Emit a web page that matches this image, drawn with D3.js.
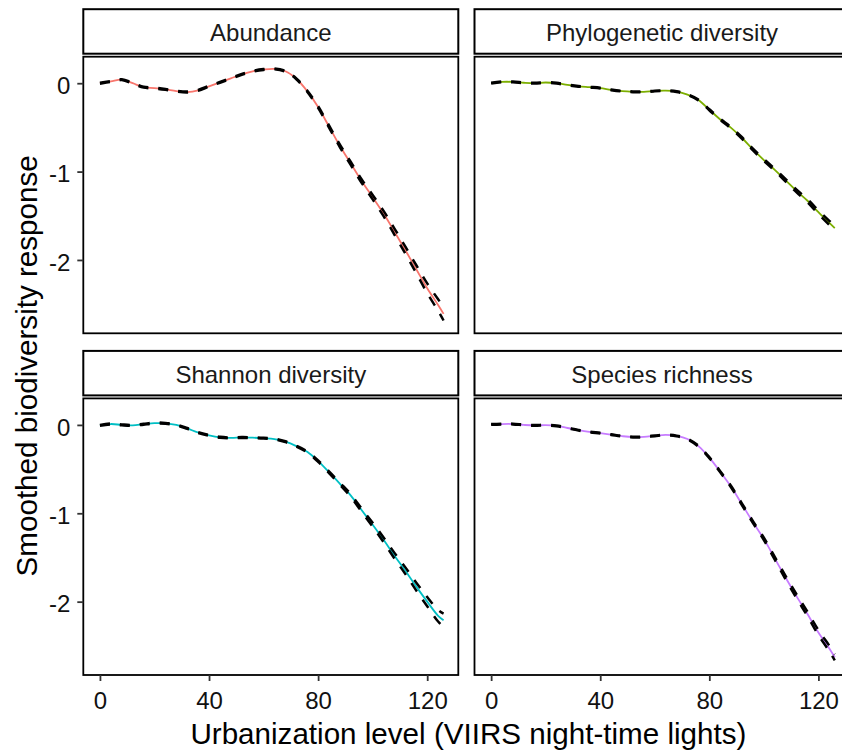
<!DOCTYPE html>
<html>
<head>
<meta charset="utf-8">
<script src="https://cdn.jsdelivr.net/npm/d3@7"></script>
<style>
    body { margin: 0; background: #fff; }
    svg { display: block; font-family: "Liberation Sans", Arial, sans-serif; }
</style>
</head>
<body>
<div id="svganchor"></div>
<script>
let width = 842, height = 753;

// urbanization level (x) shared by every panel
let urbanX = [0, 4, 8, 12, 16, 20, 24, 28, 32, 36, 40, 44, 48, 52, 56, 60, 64, 68,
              72, 76, 80, 84, 88, 92, 96, 100, 104, 108, 112, 116, 120, 124, 126];

let abundanceFit = [0.00, 0.02, 0.04, 0.00, -0.045, -0.055, -0.07, -0.09, -0.10, -0.08, -0.035, 0.01,
                    0.055, 0.10, 0.135, 0.155, 0.162, 0.135, 0.05, -0.09, -0.27, -0.49, -0.71, -0.91,
                    -1.11, -1.29, -1.475, -1.68, -1.89, -2.105, -2.32, -2.51, -2.61];
let abundanceCI = [0.005, 0.005, 0.005, 0.005, 0.005, 0.005, 0.005, 0.005, 0.005, 0.005, 0.005, 0.005,
                   0.005, 0.005, 0.005, 0.005, 0.005, 0.005, 0.005, 0.007, 0.01, 0.012, 0.015, 0.018,
                   0.02, 0.025, 0.03, 0.035, 0.04, 0.045, 0.055, 0.065, 0.075];

let phyloFit = [0.00, 0.015, 0.015, 0.005, 0.00, 0.008, 0.00, -0.02, -0.035, -0.045, -0.055, -0.075,
                -0.09, -0.097, -0.098, -0.088, -0.085, -0.095, -0.13, -0.19, -0.30, -0.41, -0.505, -0.62,
                -0.75, -0.87, -0.98, -1.10, -1.22, -1.33, -1.46, -1.58, -1.64];
let phyloCI = [0.004, 0.004, 0.004, 0.004, 0.004, 0.004, 0.004, 0.004, 0.004, 0.004, 0.004, 0.004,
               0.004, 0.004, 0.004, 0.004, 0.004, 0.004, 0.004, 0.005, 0.006, 0.007, 0.008, 0.009,
               0.01, 0.011, 0.012, 0.014, 0.016, 0.018, 0.02, 0.023, 0.025];

let shannonFit = [-0.005, 0.01, 0.00, -0.005, 0.008, 0.02, 0.018, 0.00, -0.04, -0.086, -0.118, -0.14,
                  -0.147, -0.143, -0.145, -0.15, -0.16, -0.19, -0.24, -0.305, -0.41, -0.535, -0.666, -0.80,
                  -0.966, -1.13, -1.30, -1.48, -1.65, -1.83, -2.00, -2.16, -2.21];
let shannonCI = [0.005, 0.005, 0.005, 0.005, 0.005, 0.005, 0.005, 0.005, 0.005, 0.005, 0.005, 0.005,
                 0.005, 0.005, 0.005, 0.005, 0.005, 0.005, 0.005, 0.006, 0.008, 0.01, 0.012, 0.015,
                 0.018, 0.022, 0.027, 0.032, 0.038, 0.045, 0.053, 0.065, 0.075];

let richnessFit = [0.005, 0.01, 0.01, 0.00, -0.006, -0.002, -0.01, -0.035, -0.06, -0.08, -0.094, -0.11,
                   -0.127, -0.138, -0.135, -0.124, -0.113, -0.125, -0.16, -0.24, -0.37, -0.53, -0.70, -0.90,
                   -1.10, -1.29, -1.51, -1.73, -1.94, -2.14, -2.35, -2.53, -2.63];
let richnessCI = [0.004, 0.004, 0.004, 0.004, 0.004, 0.004, 0.004, 0.004, 0.004, 0.004, 0.004, 0.004,
                  0.004, 0.004, 0.004, 0.004, 0.004, 0.004, 0.004, 0.005, 0.006, 0.007, 0.008, 0.01,
                  0.012, 0.014, 0.016, 0.019, 0.022, 0.025, 0.028, 0.032, 0.035];

let panelTitles = ["Abundance", "Phylogenetic diversity", "Shannon diversity", "Species richness"];
let panelColors = ["#F8766D", "#7CAE00", "#00BFC4", "#C77CFF"];
let xTicks = [0, 40, 80, 120];
let yTicks = [0, -1, -2];

let fits = [abundanceFit, phyloFit, shannonFit, richnessFit];
let cis = [abundanceCI, phyloCI, shannonCI, richnessCI];

// facet layout (ggplot-like 2x2 wrap, right column runs past the crop)
let colLeft = [83.3, 474.5], rowTop = [56.7, 398.4];
let panelW = 375, panelH = 276.6;
let stripH = 44.5, stripGap = 3;

let svg = d3.select("#svganchor")
    .append("svg")
    .attr("width", width)
    .attr("height", height);

let line = function(xScale, yScale) {
    return d3.line()
        .x(function(d) { return xScale(d[0]); })
        .y(function(d) { return yScale(d[1]); })
        .curve(d3.curveCatmullRom.alpha(0.5));
};

panelTitles.forEach(function(title, i) {
    let col = i % 2, row = Math.floor(i / 2);
    let left = colLeft[col], top = rowTop[row];

    let xScale = d3.scaleLinear().domain([-6.1, 131.4]).range([left, left + panelW]);
    let yScale = d3.scaleLinear().domain([-2.83, 0.30]).range([top + panelH, top]);

    let g = svg.append("g");

    // strip
    g.append("rect")
        .attr("x", left)
        .attr("y", top - stripGap - stripH)
        .attr("width", panelW)
        .attr("height", stripH)
        .attr("fill", "#fff")
        .attr("stroke", "#000")
        .attr("stroke-width", 2);

    g.append("text")
        .attr("x", left + panelW / 2)
        .attr("y", top - stripGap - stripH / 2 + 9.5)
        .attr("text-anchor", "middle")
        .attr("font-size", 24)
        .attr("fill", "#1a1a1a")
        .text(title);

    let fitPts = urbanX.map(function(x, k) { return [x, fits[i][k]]; });
    let upPts = urbanX.map(function(x, k) { return [x, fits[i][k] + cis[i][k]]; });
    let loPts = urbanX.map(function(x, k) { return [x, fits[i][k] - cis[i][k]]; });

    g.append("path")
        .attr("d", line(xScale, yScale)(fitPts))
        .attr("fill", "none")
        .attr("stroke", panelColors[i])
        .attr("stroke-width", 1.8);

    [upPts, loPts].forEach(function(pts) {
        g.append("path")
            .attr("d", line(xScale, yScale)(pts))
            .attr("fill", "none")
            .attr("stroke", "#000")
            .attr("stroke-width", 2.5)
            .attr("stroke-dasharray", "10,10");
    });

    // panel border
    g.append("rect")
        .attr("x", left)
        .attr("y", top)
        .attr("width", panelW)
        .attr("height", panelH)
        .attr("fill", "none")
        .attr("stroke", "#000")
        .attr("stroke-width", 1.8);

    if (row === 1) {
        let gX = g.append("g")
            .attr("transform", "translate(0," + (top + panelH) + ")")
            .call(d3.axisBottom(xScale).tickValues(xTicks).tickSizeInner(6).tickSizeOuter(0).tickPadding(10.5));
        gX.select(".domain").remove();
        gX.selectAll(".tick line").attr("stroke", "#333").attr("stroke-width", 1.8);
        gX.selectAll(".tick text")
            .attr("font-size", 24)
            .attr("font-family", "Liberation Sans, Arial, sans-serif")
            .attr("fill", "#111");
    }

    if (col === 0) {
        let gY = g.append("g")
            .attr("transform", "translate(" + left + ",0)")
            .call(d3.axisLeft(yScale).tickValues(yTicks).tickSizeInner(6).tickSizeOuter(0).tickPadding(7)
                .tickFormat(function(d) { return String(d); }));
        gY.select(".domain").remove();
        gY.selectAll(".tick line").attr("stroke", "#333").attr("stroke-width", 1.8);
        gY.selectAll(".tick text")
            .attr("font-size", 24)
            .attr("font-family", "Liberation Sans, Arial, sans-serif")
            .attr("dy", "0.42em")
            .attr("fill", "#111");
    }
});

let xTitle = svg.append("text")
    .attr("text-anchor", "middle")
    .attr("x", (colLeft[0] + colLeft[1] + panelW) / 2 + 2)
    .attr("y", 743.5)
    .attr("font-size", 29.6)
    .attr("fill", "#000")
    .text("Urbanization level (VIIRS night-time lights)");

let yTitle = svg.append("text")
    .attr("text-anchor", "middle")
    .attr("transform", "translate(36.5," + (rowTop[0] + rowTop[1] + panelH) / 2 + ") rotate(-90)")
    .attr("font-size", 29.6)
    .attr("fill", "#000")
    .text("Smoothed biodiversity response");
</script>
</body>
</html>
